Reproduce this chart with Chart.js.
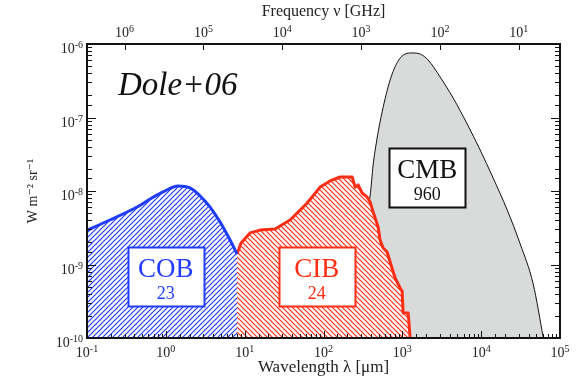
<!DOCTYPE html>
<html lang="en">
<head>
<meta charset="UTF-8">
<title>Extragalactic background light</title>
<script src="https://cdn.jsdelivr.net/npm/chart.js"></script>
<style>
  html, body { margin: 0; padding: 0; background: #fff; }
</style>
</head>
<body>
<canvas id="eblChart" width="580" height="380"></canvas>
<script>
// wavelengths in micron, intensities (nu I_nu) in W m-2 sr-1
var cobLambda = [0.1, 0.196, 0.431, 0.631, 0.92, 1.43, 2.03, 2.72, 3.64, 4.88, 6.53, 8.0];
var cobI      = [2.94e-9, 4.03e-9, 6.05e-9, 7.78e-9, 9.7e-9, 1.17e-8, 1.10e-8, 8.55e-9, 6.05e-9, 3.78e-9, 2.15e-9, 1.39e-9];

var cibLambda = [8.0, 9.0, 11.7, 15.7, 24.3, 37.7, 62, 90.6, 121, 163, 231, 252, 275, 309, 357, 390, 426, 493, 522, 570, 641, 700, 810, 938, 994, 1023, 1186, 1257];
var cibI      = [1.39e-9, 1.96e-9, 2.69e-9, 2.94e-9, 3.04e-9, 4.03e-9, 6.87e-9, 1.13e-8, 1.37e-8, 1.55e-8, 1.55e-8, 1.13e-8, 1.21e-8, 9.4e-9, 8.3e-9, 7.1e-9, 5.2e-9, 3.24e-9, 2.15e-9, 1.68e-9, 1.48e-9, 1.08e-9, 6.55e-10, 4.79e-10, 4.36e-10, 2.19e-10, 2.19e-10, 1.0e-10];

var cmbLambda = [188, 231, 291, 347, 390, 426, 479, 554, 700, 885, 1086, 1331, 1682, 2125, 3020, 4415, 6640, 9710, 14200, 21400, 31300, 45700, 61200];
var cmbI      = [1.0e-10, 3.29e-10, 1.57e-9, 4.71e-9, 8.55e-9, 2.26e-8, 5.26e-8, 1.19e-7, 3.24e-7, 5.88e-7, 7.3e-7, 7.55e-7, 7.3e-7, 6.05e-7, 3.55e-7, 1.84e-7, 8.17e-8, 3.61e-8, 1.50e-8, 5.51e-9, 1.90e-9, 5.43e-10, 1.03e-10];

// band labels and integrated intensities (nW m-2 sr-1)
var bandNames  = ['COB', 'CIB', 'CMB'];
var bandTotals = ['23', '24', '960'];

var SERIF = '"Liberation Serif", "DejaVu Serif", serif';
var C_GHZ_UM = 2.998e5;   // nu [GHz] = c / lambda [um]

var blue = '#1f3cff', red = '#ff2d14';

function toPoints(xs, ys) {
  return xs.map(function (x, i) { return { x: x, y: ys[i] }; });
}

function isDecade(v) {
  var l = Math.log10(v);
  return Math.abs(l - Math.round(l)) < 1e-6;
}

var canvas = document.getElementById('eblChart');
var mainCtx = canvas.getContext('2d');

// diagonal hatching on a white ground
function hatch(color, rising) {
  var s = 5, c = document.createElement('canvas');
  c.width = s; c.height = s;
  var g = c.getContext('2d');
  g.fillStyle = '#fff';
  g.fillRect(0, 0, s, s);
  g.strokeStyle = color;
  g.lineWidth = 1.2;
  g.beginPath();
  if (rising) {
    g.moveTo(-1, s + 1); g.lineTo(s + 1, -1);
    g.moveTo(-1, 1); g.lineTo(1, -1);
    g.moveTo(s - 1, s + 1); g.lineTo(s + 1, s - 1);
  } else {
    g.moveTo(-1, -1); g.lineTo(s + 1, s + 1);
    g.moveTo(-1, s - 1); g.lineTo(1, s + 1);
    g.moveTo(s - 1, -1); g.lineTo(s + 1, 1);
  }
  g.stroke();
  return mainCtx.createPattern(c, 'repeat');
}

// boxes with band name and total, centred on (lambda, I)
var boxes = [
  { at: [1.0, 6.9e-10],  color: blue },
  { at: [82, 6.9e-10],   color: red },
  { at: [2070, 1.53e-8], color: '#111' }
];

var annotations = {
  id: 'annotations',
  afterDatasetsDraw: function (chart) {
    var ctx = chart.ctx, a = chart.chartArea, sx = chart.scales.x, sy = chart.scales.y;
    ctx.save();
    boxes.forEach(function (b, i) {
      var cx = sx.getPixelForValue(b.at[0]), cy = sy.getPixelForValue(b.at[1]);
      var w = 76, h = 59, x0 = Math.round(cx - w / 2) + 0.5, y0 = Math.round(cy - h / 2) + 0.5;
      ctx.fillStyle = '#fff';
      ctx.fillRect(x0, y0, w, h);
      ctx.strokeStyle = b.color;
      ctx.lineWidth = 2;
      ctx.strokeRect(x0, y0, w, h);
      ctx.fillStyle = b.color;
      ctx.textAlign = 'center';
      ctx.textBaseline = 'alphabetic';
      ctx.font = '27px ' + SERIF;
      ctx.fillText(bandNames[i], cx, y0 + 29);
      ctx.font = '18px ' + SERIF;
      ctx.fillText(bandTotals[i], cx, y0 + 51);
    });
    ctx.fillStyle = '#111';
    ctx.textAlign = 'left';
    ctx.font = 'italic 33px ' + SERIF;
    ctx.fillText('Dole+06', a.left + 31, a.top + 51);
    ctx.restore();
  }
};

// "10" with a raised exponent; align is 'center' or 'right'
function drawPower(ctx, v, x, baseline, align) {
  var e = String(Math.round(Math.log10(v)));
  ctx.font = '14px ' + SERIF;
  var wb = ctx.measureText('10').width;
  ctx.font = '10px ' + SERIF;
  var we = ctx.measureText(e).width;
  var x0 = align === 'right' ? x - wb - we : x - (wb + we) / 2;
  ctx.textAlign = 'left';
  ctx.font = '14px ' + SERIF;
  ctx.fillText('10', x0, baseline);
  ctx.font = '10px ' + SERIF;
  ctx.fillText(e, x0 + wb, baseline - 5);
}

// frame with inward ticks on all sides, decade labels
var frameTicks = {
  id: 'frameTicks',
  afterDraw: function (chart) {
    var ctx = chart.ctx, a = chart.chartArea, s = chart.scales;
    ctx.save();
    ctx.strokeStyle = '#111';
    ctx.lineWidth = 1;
    ctx.beginPath();
    s.y.ticks.forEach(function (t) {
      var py = Math.round(s.y.getPixelForValue(t.value)) + 0.5;
      var len = isDecade(t.value) ? 9 : 5;
      ctx.moveTo(a.left, py); ctx.lineTo(a.left + len, py);
      ctx.moveTo(a.right, py); ctx.lineTo(a.right - len, py);
    });
    s.x.ticks.forEach(function (t) {
      var px = Math.round(s.x.getPixelForValue(t.value)) + 0.5;
      var len = isDecade(t.value) ? 7 : 4;
      ctx.moveTo(px, a.bottom); ctx.lineTo(px, a.bottom - len);
    });
    s.x2.ticks.forEach(function (t) {
      if (!isDecade(t.value)) return;
      var px = Math.round(s.x2.getPixelForValue(t.value)) + 0.5;
      ctx.moveTo(px, a.top); ctx.lineTo(px, a.top + 6);
    });
    ctx.stroke();
    ctx.lineWidth = 2;
    ctx.strokeRect(a.left, a.top, a.right - a.left, a.bottom - a.top);

    ctx.fillStyle = '#222';
    ctx.textBaseline = 'alphabetic';
    s.y.ticks.forEach(function (t) {
      if (isDecade(t.value)) drawPower(ctx, t.value, a.left - 4, s.y.getPixelForValue(t.value) + 9, 'right');
    });
    s.x.ticks.forEach(function (t) {
      if (isDecade(t.value)) drawPower(ctx, t.value, s.x.getPixelForValue(t.value), a.bottom + 19, 'center');
    });
    s.x2.ticks.forEach(function (t) {
      if (isDecade(t.value)) drawPower(ctx, t.value, s.x2.getPixelForValue(t.value), a.top - 7, 'center');
    });
    ctx.restore();
  }
};

var hiddenTicks = { display: false };

new Chart(mainCtx, {
  type: 'line',
  data: {
    datasets: [
      {
        label: 'CMB', data: toPoints(cmbLambda, cmbI), order: 3,
        borderColor: '#111', borderWidth: 1, backgroundColor: '#d9dbdb',
        fill: 'start', cubicInterpolationMode: 'monotone', pointRadius: 0
      },
      {
        label: 'CIB', data: toPoints(cibLambda, cibI), order: 2,
        borderColor: red, borderWidth: 3, backgroundColor: hatch(red, false),
        fill: 'start', tension: 0, pointRadius: 0, borderJoinStyle: 'round'
      },
      {
        label: 'COB', data: toPoints(cobLambda, cobI), order: 1,
        borderColor: blue, borderWidth: 3, backgroundColor: hatch(blue, true),
        fill: 'start', cubicInterpolationMode: 'monotone', pointRadius: 0
      }
    ]
  },
  options: {
    responsive: false,
    animation: false,
    layout: { padding: { right: 20 } },
    plugins: { legend: { display: false }, tooltip: { enabled: false } },
    scales: {
      x: {
        type: 'logarithmic', position: 'bottom', min: 0.1, max: 1e5,
        grid: { display: false, drawTicks: false }, border: { display: false },
        ticks: hiddenTicks,
        title: { display: true, text: 'Wavelength λ [μm]', font: { family: SERIF, size: 17 }, color: '#222', padding: { top: 0, bottom: 2 } },
        afterFit: function (sc) { sc.height = 42; }
      },
      x2: {
        type: 'logarithmic', position: 'top', reverse: true,
        min: C_GHZ_UM / 1e5, max: C_GHZ_UM / 0.1,
        grid: { display: false, drawTicks: false }, border: { display: false },
        ticks: hiddenTicks,
        title: { display: true, text: 'Frequency ν [GHz]', font: { family: SERIF, size: 16 }, color: '#222', padding: { top: 2, bottom: 0 } },
        afterFit: function (sc) { sc.height = 44; }
      },
      y: {
        type: 'logarithmic', position: 'left', min: 1e-10, max: 1e-6,
        grid: { display: false, drawTicks: false }, border: { display: false },
        ticks: hiddenTicks,
        title: { display: true, text: 'W m⁻² sr⁻¹', font: { family: SERIF, size: 14 }, color: '#222', padding: { top: 25, bottom: 0 } },
        afterFit: function (sc) { sc.width = 87; }
      }
    }
  },
  plugins: [annotations, frameTicks]
});
</script>
</body>
</html>
